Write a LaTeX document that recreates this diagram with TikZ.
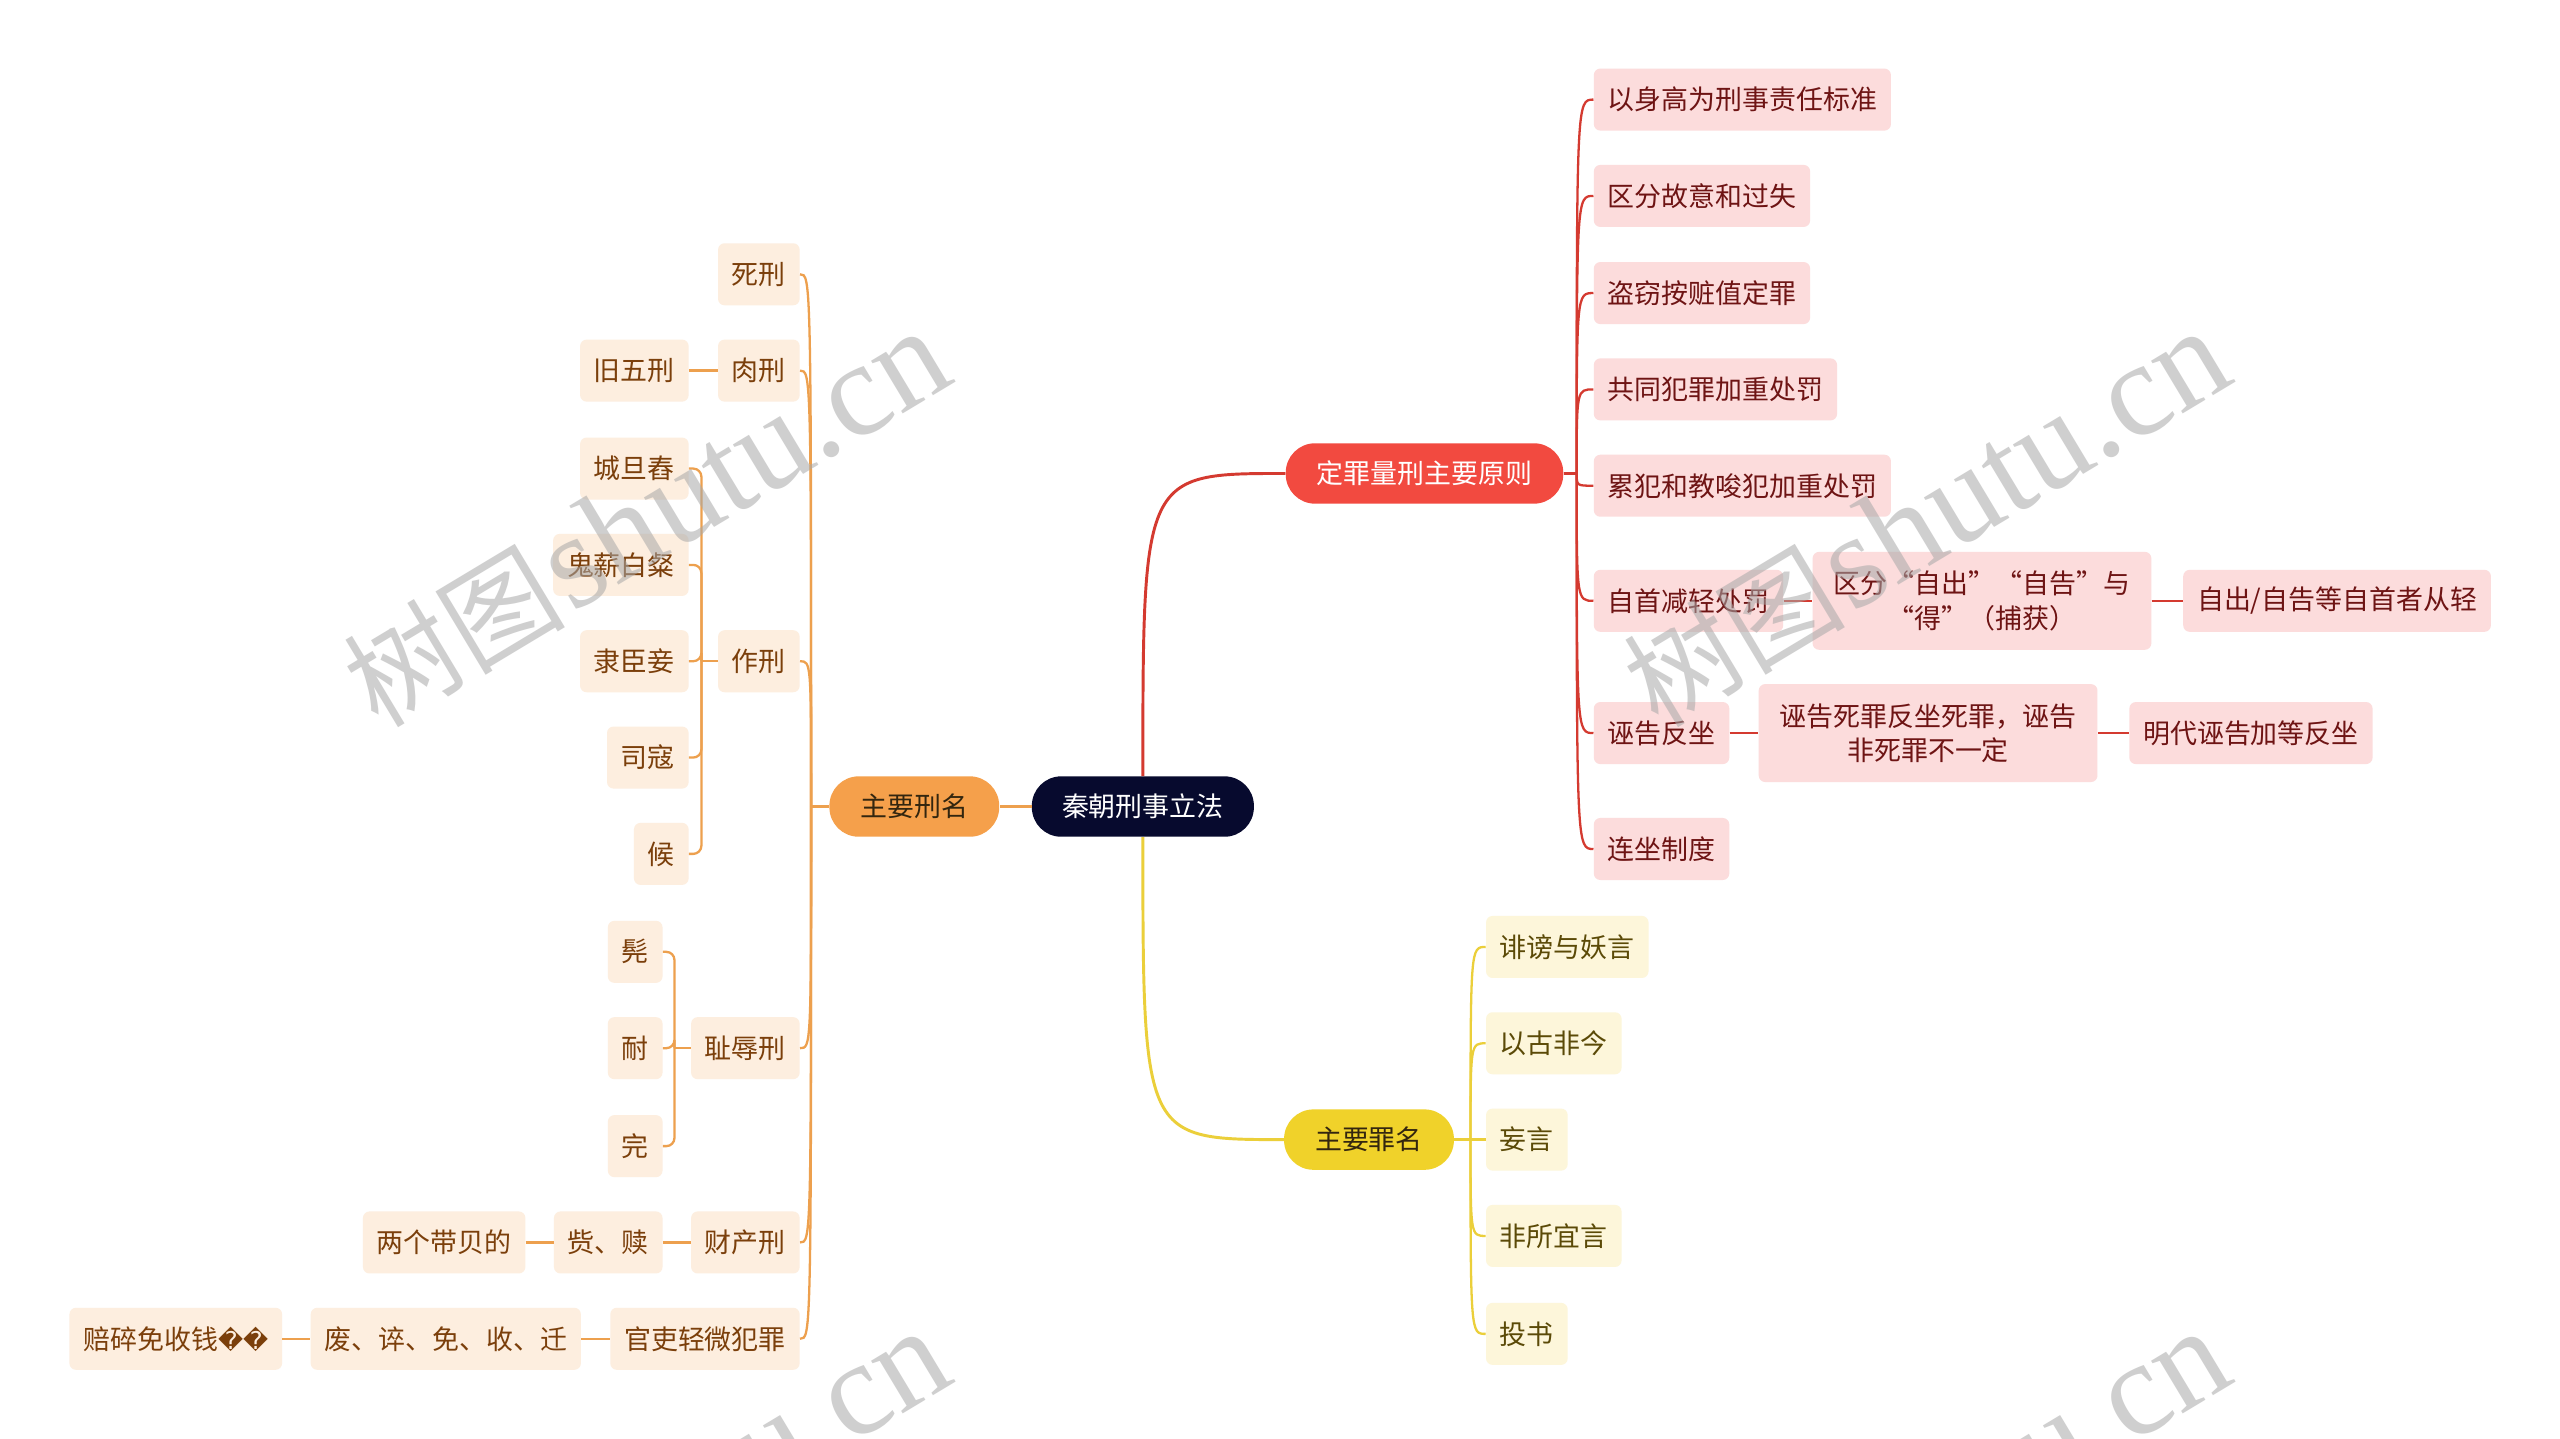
\documentclass[tikz,border=0pt]{standalone}
\usepackage{fontspec}
\setmainfont{Noto Sans CJK SC}
\newfontfamily\cjk{Noto Sans CJK SC}
\newfontfamily\wmserif{Liberation Serif}
\newfontfamily\djv{DejaVu Sans}
\usetikzlibrary{calc}
\definecolor{rootc}{HTML}{070A2E}
\definecolor{omain}{HTML}{F5A04B}
\definecolor{oline}{HTML}{EDA04E}
\definecolor{ofill}{HTML}{FDEEDF}
\definecolor{otext}{HTML}{7B3F0B}
\definecolor{rmain}{HTML}{F24A40}
\definecolor{rline}{HTML}{D43A30}
\definecolor{rfill}{HTML}{FCDCDC}
\definecolor{rtext}{HTML}{6E1414}
\definecolor{ymain}{HTML}{F0D22A}
\definecolor{yline}{HTML}{EBCF3A}
\definecolor{yfill}{HTML}{FDF6DA}
\definecolor{ytext}{HTML}{5B4A07}
\definecolor{darktext}{HTML}{33260F}
\definecolor{wmgray}{HTML}{A8A8A8}
\tikzset{
  txt/.style={font=\fontsize{16.5}{21}\selectfont, align=center},
  leaf/.style={txt, inner xsep=8.5pt, inner ysep=0pt, minimum height=38pt, rounded corners=4pt},
  twoline/.style={inner xsep=13pt, minimum height=60pt},
  oleaf/.style={leaf, fill=ofill, text=otext},
  rleaf/.style={leaf, fill=rfill, text=rtext},
  yleaf/.style={leaf, fill=yfill, text=ytext},
  rootnode/.style={txt, fill=rootc, text=white, inner xsep=18.5pt, inner ysep=0pt, minimum height=37pt, rounded corners=18pt},
  lone/.style={txt, inner xsep=19pt, inner ysep=0pt, minimum height=37pt, rounded corners=18pt},
  ocon/.style={draw=oline, line width=1.4pt},
  rcon/.style={draw=rline, line width=1.4pt},
  ycon/.style={draw=yline, line width=1.4pt},
  maincon/.style={line width=1.8pt},
  wm/.style={rotate=31, text=wmgray, opacity=0.55, inner sep=0pt}
}
\begin{document}
\begin{tikzpicture}[x=1pt,y=-1pt]
\useasboundingbox (0,0) rectangle (1568,881);
\fill[white] (0,0) rectangle (1568,881);

% ---- main nodes
\node[rootnode] (root) at (700,494) {秦朝刑事立法};
\node[lone, fill=omain, text=darktext] (xm) at (560,494) {主要刑名};
\node[lone, fill=rmain, text=white] (dz) at (872.5,290) {定罪量刑主要原则};
\node[lone, fill=ymain, text=darktext] (zm) at (838.5,698) {主要罪名};

% ---- orange branch
\node[oleaf, anchor=east] (sx) at (490,168) {死刑};
\node[oleaf, anchor=east] (rx) at (490,227) {肉刑};
\node[oleaf, anchor=east] (jw) at (422,227) {旧五刑};
\node[oleaf, anchor=east] (zx) at (490,405) {作刑};
\node[oleaf, anchor=east] (z1) at (422,287) {城旦舂};
\node[oleaf, anchor=east] (z2) at (422,346) {鬼薪白粲};
\node[oleaf, anchor=east] (z3) at (422,405) {隶臣妾};
\node[oleaf, anchor=east] (z4) at (422,464) {司寇};
\node[oleaf, anchor=east] (z5) at (422,523) {候};
\node[oleaf, anchor=east] (cr) at (490,642) {耻辱刑};
\node[oleaf, anchor=east] (c1) at (406,583) {髡};
\node[oleaf, anchor=east] (c2) at (406,642) {耐};
\node[oleaf, anchor=east] (c3) at (406,702) {完};
\node[oleaf, anchor=east] (cc) at (490,761) {财产刑};
\node[oleaf, anchor=east] (cc1) at (406,761) {赀、赎};
\node[oleaf, anchor=east] (cc2) at (322,761) {两个带贝的};
\node[oleaf, anchor=east] (gl) at (490,820) {官吏轻微犯罪};
\node[oleaf, anchor=east] (gl1) at (356,820) {废、谇、免、收、迁};
\node[oleaf, anchor=east] (gl2) at (173,820) {赔碎免收钱{\djv\fontsize{15}{15}\selectfont ��}};

% ---- red branch
\node[rleaf, anchor=west] (r1) at (976,61) {以身高为刑事责任标准};
\node[rleaf, anchor=west] (r2) at (976,120) {区分故意和过失};
\node[rleaf, anchor=west] (r3) at (976,179.5) {盗窃按赃值定罪};
\node[rleaf, anchor=west] (r4) at (976,238.5) {共同犯罪加重处罚};
\node[rleaf, anchor=west] (r5) at (976,297.5) {累犯和教唆犯加重处罚};
\node[rleaf, anchor=west] (r6) at (976,368) {自首减轻处罚};
\node[rleaf, twoline, anchor=west] (r6a) at (1110,368) {区分“自出”“自告”与\\“得”（捕获）};
\node[rleaf, anchor=west] (r6b) at (1337,368) {自出/自告等自首者从轻};
\node[rleaf, anchor=west] (r7) at (976,449) {诬告反坐};
\node[rleaf, twoline, anchor=west] (r7a) at (1077,449) {诬告死罪反坐死罪，诬告\\非死罪不一定};
\node[rleaf, anchor=west] (r7b) at (1304,449) {明代诬告加等反坐};
\node[rleaf, anchor=west] (r8) at (976,520) {连坐制度};

% ---- yellow branch
\node[yleaf, anchor=west] (y1) at (910,580) {诽谤与妖言};
\node[yleaf, anchor=west] (y2) at (910,639) {以古非今};
\node[yleaf, anchor=west] (y3) at (910,698) {妄言};
\node[yleaf, anchor=west] (y4) at (910,757) {非所宜言};
\node[yleaf, anchor=west] (y5) at (910,817) {投书};

% ---- main connectors
\draw[ocon, maincon] (root.west) -- (xm.east);
\draw[rcon, maincon] (root.north) .. controls (root.north |- dz.west) .. (dz.west);
\draw[ycon, maincon] (root.south) .. controls (root.south |- zm.west) .. (zm.west);

% ---- orange connectors
\coordinate (oj) at ($(xm.west)+(-11,0)$);
\draw[ocon, maincon] (xm.west) -- (oj);
\foreach \n in {sx,rx,zx,cr,cc,gl}
  \draw[ocon] (oj) .. controls (oj |- \n.east) .. (\n.east);
\draw[ocon] (jw.east) -- (rx.west);
\coordinate (zj) at ($(zx.west)+(-10,0)$);
\draw[ocon] (zx.west) -- (zj);
\foreach \n in {z1,z2,z3,z4,z5}
  \draw[ocon, rounded corners=5pt] (zj) |- (\n.east);
\coordinate (cj) at ($(cr.west)+(-10,0)$);
\draw[ocon] (cr.west) -- (cj);
\foreach \n in {c1,c2,c3}
  \draw[ocon, rounded corners=5pt] (cj) |- (\n.east);
\draw[ocon] (cc1.east) -- (cc.west);
\draw[ocon] (cc2.east) -- (cc1.west);
\draw[ocon] (gl1.east) -- (gl.west);
\draw[ocon] (gl2.east) -- (gl1.west);

% ---- red connectors
\coordinate (rj) at ($(dz.east)+(8,0)$);
\draw[rcon, maincon] (dz.east) -- (rj);
\foreach \n in {r1,r2,r3,r4,r5,r6,r7,r8}
  \draw[rcon] (rj) .. controls (rj |- \n.west) .. (\n.west);
\draw[rcon] (r6.east) -- (r6a.west);
\draw[rcon] (r6a.east) -- (r6b.west);
\draw[rcon] (r7.east) -- (r7a.west);
\draw[rcon] (r7a.east) -- (r7b.west);

% ---- yellow connectors
\coordinate (yj) at ($(zm.east)+(10,0)$);
\draw[ycon, maincon] (zm.east) -- (yj);
\foreach \n in {y1,y2,y3,y4,y5}
  \draw[ycon] (yj) .. controls (yj |- \n.west) .. (\n.west);

% ---- watermarks
\begin{scope}
\clip (0,0) rectangle (1568,881);
\foreach \p/\q in {396/318, 1180/318, 396/930, 1180/930}
  \node[wm] (wm\p\q) at (\p,\q) {{\cjk\fontsize{68}{68}\selectfont 树图} {\wmserif\fontsize{82}{82}\selectfont shutu.cn}};
\end{scope}
\end{tikzpicture}
\end{document}
